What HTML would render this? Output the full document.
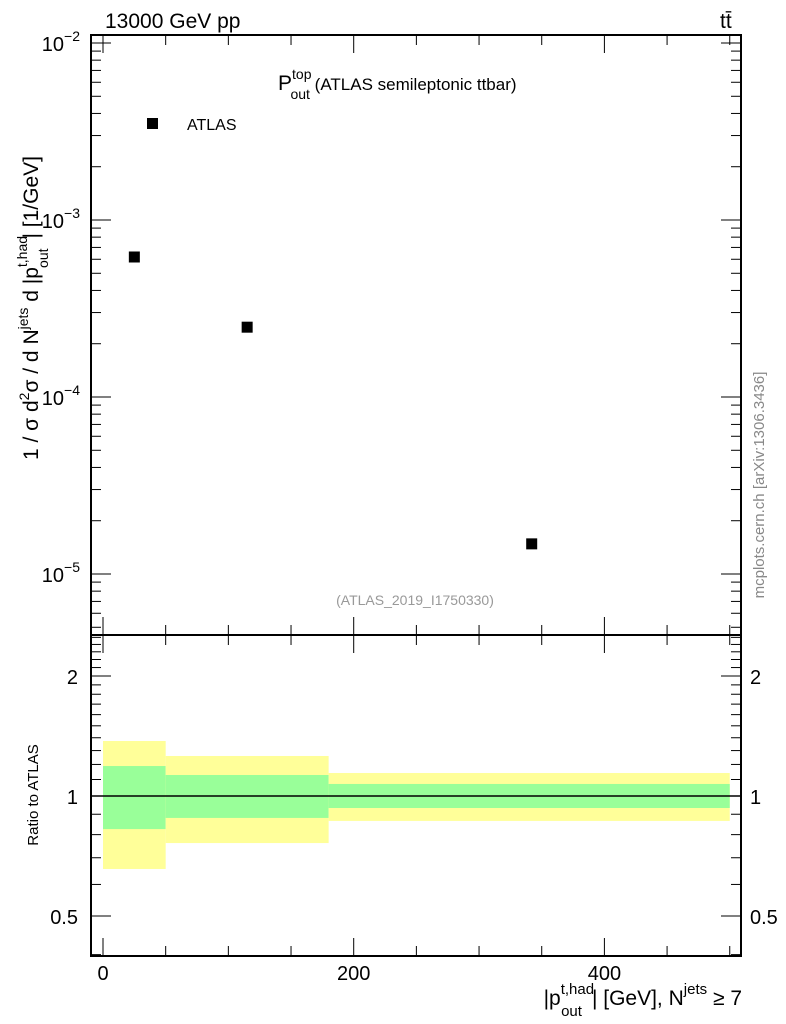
<!DOCTYPE html>
<html><head><meta charset="utf-8"><style>
body{margin:0;background:#fff;width:786px;height:1024px;overflow:hidden}
svg{display:block;font-family:"Liberation Sans",sans-serif}
</style></head><body>
<svg id="c" width="786" height="1024" xmlns="http://www.w3.org/2000/svg">
<text x="105" y="28" font-size="21">13000 GeV pp</text>
<text x="720" y="28" font-size="21">tt̄</text>
<text x="278" y="90" font-size="21">P<tspan dy="-11" font-size="14">top</tspan><tspan dx="-21" dy="20" font-size="14">out</tspan><tspan dy="-9" font-size="17"> (ATLAS semileptonic ttbar)</tspan></text>
<rect x="147" y="118" width="11" height="11" fill="#000"/>
<text x="187" y="130" font-size="16">ATLAS</text>
<text x="415" y="605" font-size="14" fill="#999" text-anchor="middle">(ATLAS_2019_I1750330)</text>
<text transform="translate(764,485) rotate(-90)" font-size="15" fill="#888" text-anchor="middle">mcplots.cern.ch [arXiv:1306.3436]</text>
<text transform="translate(38,308) rotate(-90)" font-size="21" text-anchor="middle">1 / σ d<tspan dy="-9" font-size="14">2</tspan><tspan dy="9">σ / d N</tspan><tspan dy="-10" font-size="14">jets</tspan><tspan dy="10"> d |p</tspan><tspan dy="-11" font-size="14">t,had</tspan><tspan dx="-32" dy="21" font-size="14">out</tspan><tspan dx="10" dy="-10">| [1/GeV]</tspan></text>
<text transform="translate(38,795) rotate(-90)" font-size="15" text-anchor="middle">Ratio to ATLAS</text>
<text x="742" y="1005" font-size="21" text-anchor="end">|p<tspan dy="-11" font-size="15">t,had</tspan><tspan dx="-33" dy="22" font-size="15">out</tspan><tspan dx="10" dy="-11">| [GeV], N</tspan><tspan dy="-11" font-size="15">jets</tspan><tspan dy="11"> ≥ 7</tspan></text>
</svg>
<script>
const xCenters=[25,115,342];
const yValues=[6.18e-4,2.48e-4,1.48e-5];
const binEdges=[0,50,180,500];
const yellowHi=[1.374,1.26,1.142];
const yellowLo=[0.656,0.762,0.866];
const greenHi=[1.189,1.129,1.072];
const greenLo=[0.826,0.881,0.933];
const xTicks=[0,200,400];
const yDecades=[-2,-3,-4,-5];
const rTicks=[2,1,0.5];

const NS='http://www.w3.org/2000/svg';
const svg=document.getElementById('c');
const L=91,R=741,T=35,MB=635,RB=956;
const X=v=>103+(v)*1.2535;
const Y=v=>43+(-2-Math.log10(v))*177;
const RY=v=>796-Math.log2(v)*120;
function el(tag,at,parent){const e=document.createElementNS(NS,tag);for(const k in at)e.setAttribute(k,at[k]);(parent||svg).appendChild(e);return e;}
function line(x1,y1,x2,y2,w){return el('line',{x1,y1,x2,y2,stroke:'#000','stroke-width':w||1});}

for(let i=0;i<binEdges.length-1;i++){
 const x0=X(binEdges[i]),x1=X(binEdges[i+1]);
 const y=el('rect',{x:x0,y:RY(yellowHi[i]),width:x1-x0,height:RY(yellowLo[i])-RY(yellowHi[i]),fill:'#ffff99'});
 
 
 const g=el('rect',{x:x0,y:RY(greenHi[i]),width:x1-x0,height:RY(greenLo[i])-RY(greenHi[i]),fill:'#99ff99'});
 
 
}
const one=line(L,RY(1),R,RY(1),1.5);



const f1=el('rect',{x:L,y:T,width:R-L,height:MB-T,fill:'none',stroke:'#000','stroke-width':2});


const f2=el('rect',{x:L,y:MB,width:R-L,height:RB-MB,fill:'none',stroke:'#000','stroke-width':2});



for(let v=0;v<=500;v+=50){
 const big=v%200===0, len=big?18:10, x=X(v);
 line(x,T,x,T+len);line(x,MB,x,MB-len);line(x,MB,x,MB+len);line(x,RB,x,RB-len);
}
xTicks.forEach(v=>{const t=el('text',{x:X(v),y:RB+24,'font-size':20,'text-anchor':'middle'});t.textContent=v;
 
 });

for(let d=-6;d<=-2;d++){for(let m=1;m<10;m++){const v=m*Math.pow(10,d),y=Y(v);if(y<T||y>MB)continue;
 const len=m===1?20:10;line(L,y,L+len,y);line(R,y,R-len,y);}}
yDecades.forEach(d=>{const t=el('text',{x:80,y:Y(Math.pow(10,d))+8,'font-size':20,'text-anchor':'end'});
 t.innerHTML='10<tspan dy="-10" font-size="14">−'+(-d)+'</tspan>';
 
 });

for(let v=0.4;v<=2.55;v+=0.1){const y=RY(v);if(y<MB||y>RB)continue;
 const big=Math.abs(v-0.5)<1e-6||Math.abs(v-1)<1e-6||Math.abs(v-2)<1e-6;const len=big?20:10;
 line(L,y,L+len,y);line(R,y,R-len,y);}
rTicks.forEach(v=>{const y=RY(v)+8;
 const a=el('text',{x:78,y,'font-size':20,'text-anchor':'end'});a.textContent=v;
 
 
 const b=el('text',{x:750,y,'font-size':20});b.textContent=v;
 
 });

xCenters.forEach((xv,i)=>{const p=el('rect',{x:X(xv)-5.5,y:Y(yValues[i])-5.5,width:11,height:11,fill:'#000'});
 
 });
</script>
</body></html>
